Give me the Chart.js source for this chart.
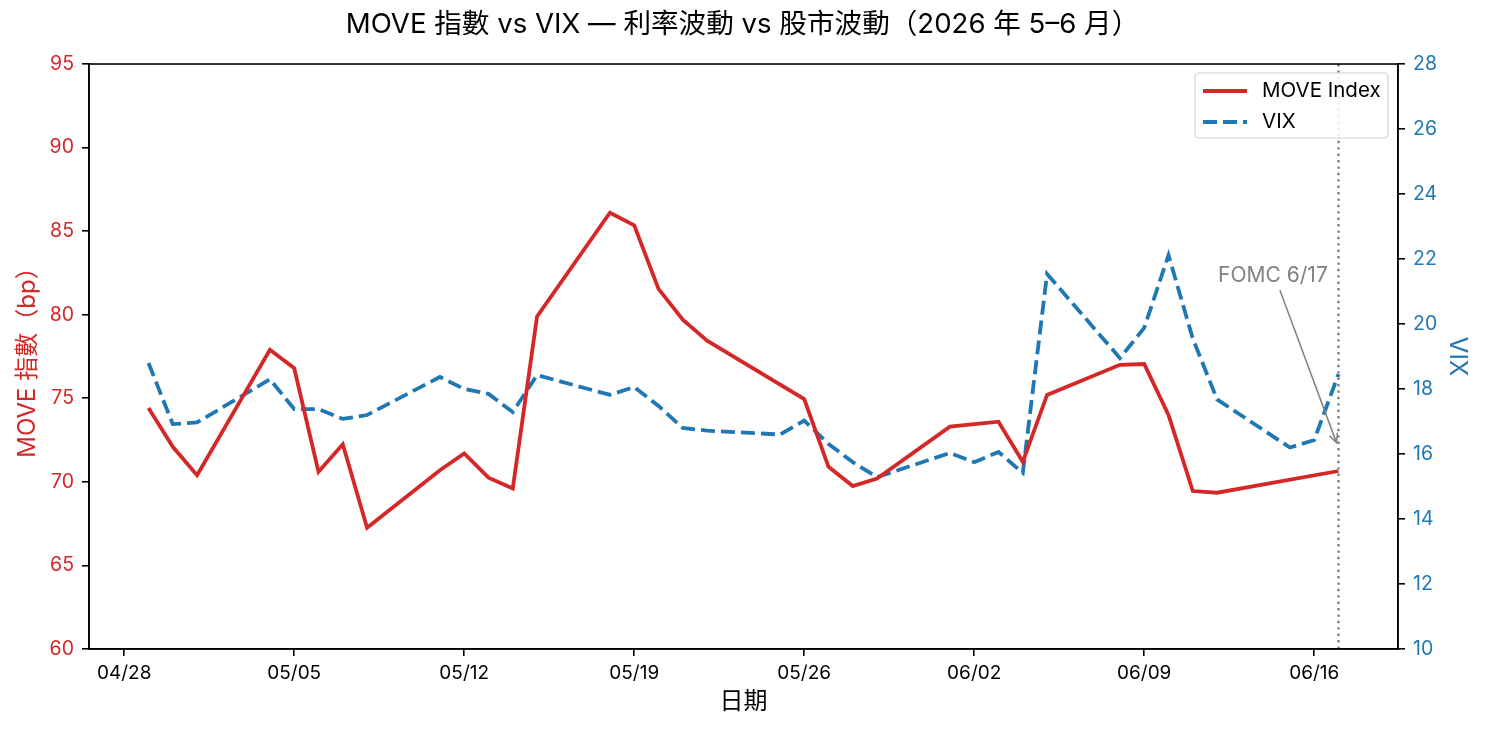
<!DOCTYPE html>
<html><head><meta charset="utf-8">
<script src="https://cdn.jsdelivr.net/npm/chart.js@4.4.1/dist/chart.umd.min.js"></script>
<style>html,body{margin:0;padding:0;background:#fff}canvas{display:block}</style>
</head><body>
<canvas id="c" width="1485" height="730"></canvas>
<script>
const dates = ['2026-04-29','2026-04-30','2026-05-01','2026-05-04','2026-05-05','2026-05-06','2026-05-07','2026-05-08',
  '2026-05-11','2026-05-12','2026-05-13','2026-05-14','2026-05-15','2026-05-18','2026-05-19','2026-05-20','2026-05-21',
  '2026-05-22','2026-05-25','2026-05-26','2026-05-27','2026-05-28','2026-05-29','2026-06-01','2026-06-02','2026-06-03',
  '2026-06-04','2026-06-05','2026-06-08','2026-06-09','2026-06-10','2026-06-11','2026-06-12','2026-06-15','2026-06-16','2026-06-17'];
const moveValues = [74.42,72.1,70.4,77.9,76.8,70.6,72.25,67.25,
  70.7,71.7,70.25,69.6,79.9,86.1,85.35,81.55,79.7,
  78.45,null,74.95,70.9,69.75,70.2,73.3,73.45,73.6,
  71.2,75.2,77.0,77.05,74.0,69.45,69.35,null,null,70.65];
const vixValues = [18.8,16.92,16.97,18.3,17.38,17.38,17.08,17.2,
  18.37,18.0,17.85,17.29,18.43,17.82,18.06,17.48,16.8,
  16.72,16.6,17.03,16.31,15.75,15.29,16.03,15.75,16.06,
  15.42,21.54,18.95,19.88,22.12,19.55,17.68,16.2,16.43,18.46];
const tickLabels = ['04/28','05/05','05/12','05/19','05/26','06/02','06/09','06/16'];
const moveTicks = [60,65,70,75,80,85,90,95];
const vixTicks = [10,12,14,16,18,20,22,24,26,28];
const seriesNames = ['MOVE Index','VIX'];
const fomcDate = '2026-06-17';
const fomcLabel = 'FOMC 6/17';
const fomcArrowVix = 16.35;
const fomcTextDate = '2026-06-14';
const fomcTextDayShift = 0.3;
const fomcTextVix = 21.5;

const YEAR = 2026;
const BASE = Date.UTC(2026,3,28);
const dayOf = s => { const [y,m,d] = s.split('-').map(Number); return (Date.UTC(y,m-1,d)-BASE)/86400000; };
const tickDay = l => { const [m,d] = l.split('/').map(Number); return (Date.UTC(YEAR,m-1,d)-BASE)/86400000; };
const days = dates.map(dayOf);
const span = days[days.length-1]-days[0];
const xMin = days[0]-0.05*span, xMax = days[days.length-1]+0.05*span;

const RED = '#d62728', BLUE = '#1f77b4';
const FONT = "Inter,'Noto Sans CJK TC',sans-serif";

const frame = {
  id:'frame',
  afterDraw(chart){
    const {ctx, chartArea:a} = chart;
    ctx.save();
    ctx.strokeStyle = '#000'; ctx.lineWidth = 1.6;
    ctx.strokeRect(a.left, a.top, a.right-a.left, a.bottom-a.top);
    ctx.restore();
  }
};

const fomc = {
  id:'fomc',
  afterDatasetsDraw(chart){
    const {ctx, chartArea:a, scales} = chart;
    const x = scales.x.getPixelForValue(dayOf(fomcDate));
    ctx.save();
    ctx.strokeStyle = '#808080'; ctx.lineWidth = 2.4; ctx.setLineDash([2.4,4]);
    ctx.beginPath(); ctx.moveTo(x, a.top); ctx.lineTo(x, a.bottom); ctx.stroke();
    ctx.setLineDash([]);
    const tx = scales.x.getPixelForValue(dayOf(fomcTextDate)+fomcTextDayShift);
    const ty = scales.y2.getPixelForValue(fomcTextVix);
    ctx.fillStyle = '#808080'; ctx.font = '21px '+FONT; ctx.textAlign='center'; ctx.textBaseline='middle';
    ctx.fillText(fomcLabel, tx, ty);
    const sx = tx+7, sy = ty+15;
    const ex = x-2, ey = scales.y2.getPixelForValue(fomcArrowVix);
    ctx.lineWidth = 1.5;
    ctx.beginPath(); ctx.moveTo(sx, sy); ctx.lineTo(ex, ey); ctx.stroke();
    const ang = Math.atan2(ey-sy, ex-sx), L = 10, W = 0.45;
    ctx.beginPath();
    ctx.moveTo(ex - L*Math.cos(ang-W), ey - L*Math.sin(ang-W));
    ctx.lineTo(ex, ey);
    ctx.lineTo(ex - L*Math.cos(ang+W), ey - L*Math.sin(ang+W));
    ctx.stroke();
    ctx.restore();
  }
};

const legendBox = {
  id:'legendBox',
  afterDraw(chart){
    const {ctx, chartArea:a} = chart;
    const w = 193, h = 65, x = a.right - 10 - w, y = a.top + 9;
    ctx.save();
    ctx.fillStyle = 'rgba(255,255,255,0.85)'; ctx.strokeStyle = '#d0d0d0'; ctx.lineWidth = 1.2;
    ctx.beginPath(); ctx.roundRect(x, y, w, h, 4); ctx.fill(); ctx.stroke();
    chart.data.datasets.forEach((ds, i) => {
      const ly = y + 18 + i*31;
      ctx.strokeStyle = ds.borderColor; ctx.lineWidth = ds.borderWidth;
      ctx.setLineDash(ds.borderDash || []);
      ctx.beginPath(); ctx.moveTo(x+8, ly); ctx.lineTo(x+52, ly); ctx.stroke();
      ctx.setLineDash([]);
      ctx.fillStyle = '#000'; ctx.font = '20.5px '+FONT; ctx.textAlign='left'; ctx.textBaseline='middle';
      ctx.fillText(ds.label, x+67, ly);
    });
    ctx.restore();
  }
};

new Chart(document.getElementById('c'), {
  type:'line',
  data:{
    datasets:[
      {label:seriesNames[0], data:days.map((d,i)=>({x:d,y:moveValues[i]})), yAxisID:'y',
        borderColor:RED, borderWidth:3.8, pointRadius:0, spanGaps:true, tension:0, fill:false},
      {label:seriesNames[1], data:days.map((d,i)=>({x:d,y:vixValues[i]})), yAxisID:'y2',
        borderColor:BLUE, borderWidth:3.8, borderDash:[14,6], pointRadius:0, spanGaps:true, tension:0, fill:false}
    ]
  },
  options:{
    responsive:false, animation:false, events:[],
    layout:{padding:0},
    plugins:{
      legend:{display:false}, tooltip:{enabled:false},
      title:{display:true, text:'MOVE 指數 vs VIX — 利率波動 vs 股市波動（2026 年 5–6 月）',
        color:'#000', font:{family:FONT, size:27.6, weight:'normal'}, padding:{top:8.5, bottom:22.4}}
    },
    scales:{
      x:{type:'linear', min:xMin, max:xMax,
        afterBuildTicks(s){ s.ticks = tickLabels.map(l=>({value:tickDay(l)})); },
        ticks:{color:'#000', font:{family:FONT,size:19}, padding:6, maxRotation:0, autoSkip:false,
          callback:(v)=>{ const i = tickLabels.findIndex(l=>tickDay(l)===v); return i>=0?tickLabels[i]:''; }},
        grid:{drawOnChartArea:false, color:'#000', lineWidth:1.6, tickLength:7},
        border:{color:'#000', width:1.6},
        title:{display:true, text:'日期', color:'#000', font:{family:FONT,size:24}, padding:{top:0,bottom:13.6}},
        afterFit(s){ s.height = 81; }
      },
      y:{position:'left', min:60, max:95,
        afterBuildTicks(s){ s.ticks = moveTicks.map(v=>({value:v})); },
        ticks:{color:RED, font:{family:FONT,size:19.5}, padding:8},
        grid:{drawOnChartArea:false, color:'#000', lineWidth:1.6, tickLength:7},
        border:{color:'#000', width:1.6},
        title:{display:true, text:'MOVE 指數（bp）', color:RED, font:{family:FONT,size:24}, padding:{top:13.6}},
        afterFit(s){ s.width = 89; }
      },
      y2:{position:'right', min:10, max:28,
        afterBuildTicks(s){ s.ticks = vixTicks.map(v=>({value:v})); },
        ticks:{color:BLUE, font:{family:FONT,size:19.5}, padding:8},
        grid:{drawOnChartArea:false, color:'#000', lineWidth:1.6, tickLength:7},
        border:{color:'#000', width:1.6},
        title:{display:true, text:'VIX', color:BLUE, font:{family:FONT,size:24}, padding:{top:13.6}},
        afterFit(s){ s.width = 87; }
      }
    }
  },
  plugins:[frame, fomc, legendBox]
});
</script>
</body></html>
